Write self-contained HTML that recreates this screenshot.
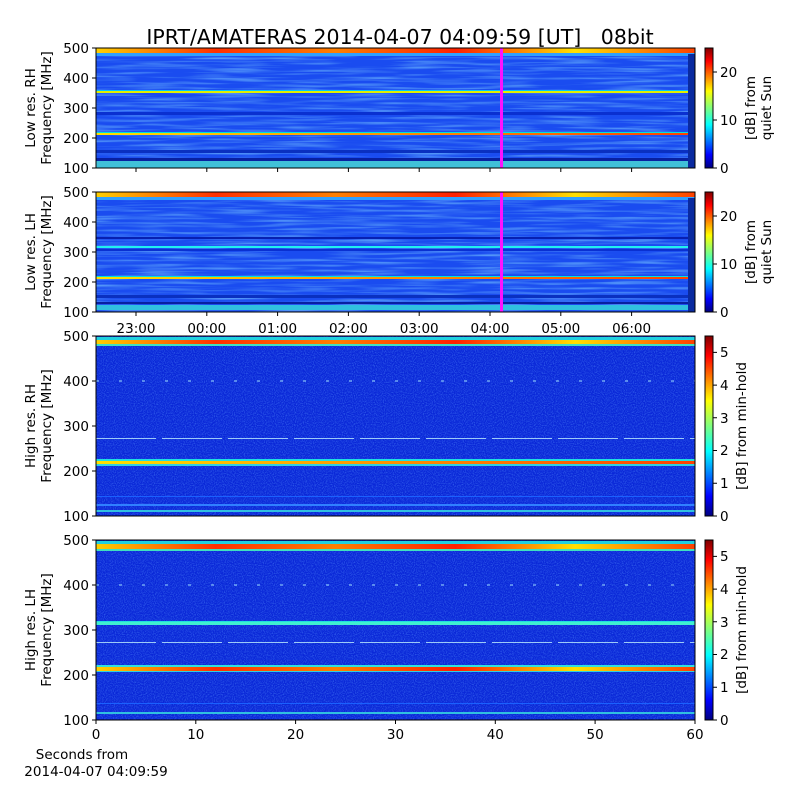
<!DOCTYPE html>
<html><head><meta charset="utf-8"><style>
body{margin:0;background:#fff}
svg text{font-family:"DejaVu Sans","Liberation Sans",sans-serif;fill:#000}
</style></head><body>
<svg width="800" height="800" viewBox="0 0 800 800" xmlns="http://www.w3.org/2000/svg">
<defs>
<linearGradient id="jet" x1="0" y1="1" x2="0" y2="0">
<stop offset="0" stop-color="#00007f"/><stop offset="0.11" stop-color="#0000ff"/>
<stop offset="0.36" stop-color="#00ffff"/><stop offset="0.5" stop-color="#7fff7f"/>
<stop offset="0.64" stop-color="#ffff00"/><stop offset="0.89" stop-color="#ff0000"/>
<stop offset="1" stop-color="#7f0000"/></linearGradient>
<linearGradient id="hot" x1="0" y1="0" x2="1" y2="0">
<stop offset="0" stop-color="#ffd000"/><stop offset="0.2" stop-color="#ff3000"/><stop offset="0.4" stop-color="#ff8000"/><stop offset="0.6" stop-color="#ff2000"/><stop offset="0.8" stop-color="#ffe000"/><stop offset="1" stop-color="#ff4000"/></linearGradient>
<linearGradient id="yl" x1="0" y1="0" x2="1" y2="0">
<stop offset="0" stop-color="#ffe000"/><stop offset="0.5" stop-color="#ff9000"/><stop offset="1" stop-color="#ff4000"/></linearGradient>
<filter id="noise" x="0" y="0" width="100%" height="100%">
<feTurbulence type="fractalNoise" baseFrequency="0.9 0.9" numOctaves="1" seed="3"/>
<feColorMatrix values="0 0 0 0 0.1  0 0 0 0 0.3  0 0 0 0 1  0 0 0 1.2 -0.5"/>
</filter>
<filter id="noise2" x="0" y="0" width="100%" height="100%">
<feTurbulence type="fractalNoise" baseFrequency="0.015 0.4" numOctaves="2" seed="7"/>
<feColorMatrix values="0 0 0 0 0.2  0 0 0 0 0.6  0 0 0 0 1  0 0 0 1.4 -0.6"/>
</filter>
</defs>
<text x="400" y="44" font-size="20.5" text-anchor="middle" xml:space="preserve" style="white-space:pre">IPRT/AMATERAS 2014-04-07 04:09:59 [UT]   08bit</text>

<!-- Panel 1 -->
<rect x="96" y="48" width="599" height="120" fill="#1a4cf0"/>
<rect x="96" y="48" width="599" height="120" filter="url(#noise2)"/>
<rect x="96" y="48" width="599" height="5" fill="url(#hot)"/>
<rect x="96" y="53" width="599" height="3" fill="#30a0ff"/>
<rect x="96" y="90" width="599" height="1" fill="#00c8ff"/>
<rect x="96" y="91" width="599" height="2" fill="#e0f000"/>
<rect x="96" y="112" width="599" height="3" fill="#0a30d0"/>
<rect x="96" y="132" width="599" height="1" fill="#00e0e0"/>
<rect x="96" y="133" width="599" height="2" fill="url(#yl)"/>
<rect x="96" y="150" width="599" height="3" fill="#0a30c0"/>
<rect x="96" y="158" width="599" height="3" fill="#0820a0"/>
<rect x="96" y="161" width="599" height="7" fill="#40c0d8"/>
<rect x="688" y="54" width="7" height="114" fill="#0a2aa0"/>
<rect x="500" y="48" width="3" height="120" fill="#ff10ff"/>
<rect x="96" y="48" width="599" height="120" fill="none" stroke="#000"/>

<!-- Panel 2 -->
<rect x="96" y="192" width="599" height="120" fill="#1a4cf0"/>
<rect x="96" y="192" width="599" height="120" filter="url(#noise2)"/>
<rect x="96" y="192" width="599" height="5" fill="url(#hot)"/>
<rect x="96" y="197" width="599" height="3" fill="#30a0ff"/>
<rect x="96" y="237" width="599" height="2" fill="#0820b0"/>
<rect x="96" y="246" width="599" height="2" fill="#20f0f0"/>
<rect x="96" y="249" width="599" height="2" fill="#0a30d0"/>
<rect x="96" y="276" width="599" height="1" fill="#00e0e0"/>
<rect x="96" y="277" width="599" height="2" fill="url(#yl)"/>
<rect x="96" y="295" width="599" height="3" fill="#0a30c0"/>
<rect x="96" y="302" width="599" height="2" fill="#0820a0"/>
<rect x="96" y="305" width="599" height="5" fill="#30c0e0"/>
<rect x="688" y="198" width="7" height="114" fill="#0a2aa0"/>
<rect x="500" y="192" width="3" height="120" fill="#ff10ff"/>
<rect x="96" y="192" width="599" height="120" fill="none" stroke="#000"/>

<!-- Panel 3 -->
<rect x="96" y="336" width="599" height="180" fill="#0a28d8"/>
<rect x="96" y="336" width="599" height="180" filter="url(#noise)"/>
<rect x="96" y="337" width="599" height="3" fill="#20d0e0"/>
<rect x="96" y="340" width="599" height="4" fill="url(#hot)"/>
<rect x="96" y="344" width="599" height="2" fill="#40e0c0"/>
<line x1="96" y1="381" x2="695" y2="381" stroke="#a0e0ff" stroke-width="1" stroke-dasharray="3 20"/>
<line x1="96" y1="438.5" x2="695" y2="438.5" stroke="#c0f0ff" stroke-width="1" stroke-dasharray="60 6" opacity="0.8"/>
<rect x="96" y="459" width="599" height="2" fill="#20e0e0"/>
<rect x="96" y="461" width="599" height="3" fill="url(#yl)"/>
<rect x="96" y="464" width="599" height="2" fill="#30d0e0"/>
<rect x="96" y="496" width="599" height="1" fill="#1a60ff"/>
<rect x="96" y="504" width="599" height="2" fill="#3080ff"/>
<rect x="96" y="510" width="599" height="2" fill="#30c0e0"/>
<rect x="96" y="336" width="599" height="180" fill="none" stroke="#000"/>

<!-- Panel 4 -->
<rect x="96" y="540" width="599" height="180" fill="#0a28d8"/>
<rect x="96" y="540" width="599" height="180" filter="url(#noise)"/>
<rect x="96" y="541" width="599" height="3" fill="#20d0e0"/>
<rect x="96" y="544" width="599" height="5" fill="url(#hot)"/>
<rect x="96" y="549" width="599" height="2" fill="#40e0c0"/>
<line x1="96" y1="585" x2="695" y2="585" stroke="#a0e0ff" stroke-width="1" stroke-dasharray="3 20"/>
<rect x="96" y="621" width="599" height="1" fill="#20e0e0"/>
<rect x="96" y="622" width="599" height="3" fill="#40f0d0"/>
<line x1="96" y1="642.5" x2="695" y2="642.5" stroke="#c0f0ff" stroke-width="1" stroke-dasharray="60 6" opacity="0.8"/>
<rect x="96" y="665" width="599" height="2" fill="#30e0e0"/>
<rect x="96" y="667" width="599" height="4" fill="url(#hot)"/>
<rect x="96" y="671" width="599" height="1" fill="#30d0e0"/>
<rect x="96" y="703" width="599" height="1" fill="#1a60ff"/>
<rect x="96" y="712" width="599" height="2" fill="#30c0e0"/>
<rect x="96" y="540" width="599" height="180" fill="none" stroke="#000"/>

<!-- Y ticks -->
<g font-size="13.5" text-anchor="end">
<text x="89" y="53">500</text><text x="89" y="83">400</text><text x="89" y="113">300</text><text x="89" y="143">200</text><text x="89" y="173">100</text>
<text x="89" y="197">500</text><text x="89" y="227">400</text><text x="89" y="257">300</text><text x="89" y="287">200</text><text x="89" y="317">100</text>
<text x="89" y="341">500</text><text x="89" y="386">400</text><text x="89" y="431">300</text><text x="89" y="476">200</text><text x="89" y="521">100</text>
<text x="89" y="545">500</text><text x="89" y="590">400</text><text x="89" y="635">300</text><text x="89" y="680">200</text><text x="89" y="725">100</text>
</g>
<g stroke="#000">
<path d="M92 48h4M92 78h4M92 108h4M92 138h4M92 168h4M92 192h4M92 222h4M92 252h4M92 282h4M92 312h4M92 336h4M92 381h4M92 426h4M92 471h4M92 516h4M92 540h4M92 585h4M92 630h4M92 675h4M92 720h4"/>
<path d="M136 168v4M206.8 168v4M277.6 168v4M348.4 168v4M419.2 168v4M490 168v4M560.8 168v4M631.6 168v4"/>
<path d="M136 312v4M206.8 312v4M277.6 312v4M348.4 312v4M419.2 312v4M490 312v4M560.8 312v4M631.6 312v4"/>
<path d="M96 720v4M195.8 720v4M295.6 720v4M395.5 720v4M495.3 720v4M595.1 720v4M695 720v4"/>
</g>
<g font-size="13.5" text-anchor="middle">
<text x="136" y="333">23:00</text><text x="206.8" y="333">00:00</text><text x="277.6" y="333">01:00</text><text x="348.4" y="333">02:00</text><text x="419.2" y="333">03:00</text><text x="490" y="333">04:00</text><text x="560.8" y="333">05:00</text><text x="631.6" y="333">06:00</text>
<text x="96" y="739">0</text><text x="195.8" y="739">10</text><text x="295.6" y="739">20</text><text x="395.5" y="739">30</text><text x="495.3" y="739">40</text><text x="595.1" y="739">50</text><text x="695" y="739">60</text>
<text x="82" y="759">Seconds from</text><text x="96" y="776">2014-04-07 04:09:59</text>
</g>
<g font-size="13.5" text-anchor="middle">
<text transform="translate(35,108) rotate(-90)">Low res. RH</text><text transform="translate(51,108) rotate(-90)">Frequency [MHz]</text>
<text transform="translate(35,252) rotate(-90)">Low res. LH</text><text transform="translate(51,252) rotate(-90)">Frequency [MHz]</text>
<text transform="translate(35,426) rotate(-90)">High res. RH</text><text transform="translate(51,426) rotate(-90)">Frequency [MHz]</text>
<text transform="translate(35,630) rotate(-90)">High res. LH</text><text transform="translate(51,630) rotate(-90)">Frequency [MHz]</text>
</g>

<!-- Colorbars -->
<g stroke="#000">
<rect x="705" y="48" width="8" height="120" fill="url(#jet)"/>
<rect x="705" y="192" width="8" height="120" fill="url(#jet)"/>
<rect x="705" y="336" width="8" height="180" fill="url(#jet)"/>
<rect x="705" y="540" width="8" height="180" fill="url(#jet)"/>
<path d="M713 168h4M713 120h4M713 72h4M713 312h4M713 264h4M713 216h4"/>
<path d="M713 516h4M713 483.3h4M713 450.5h4M713 417.8h4M713 385.1h4M713 352.4h4"/>
<path d="M713 720h4M713 687.3h4M713 654.5h4M713 621.8h4M713 589.1h4M713 556.4h4"/>
</g>
<g font-size="13.5">
<text x="720" y="173">0</text><text x="720" y="125">10</text><text x="720" y="77">20</text>
<text x="720" y="317">0</text><text x="720" y="269">10</text><text x="720" y="221">20</text>
<text x="720" y="521">0</text><text x="720" y="488">1</text><text x="720" y="455">2</text><text x="720" y="423">3</text><text x="720" y="390">4</text><text x="720" y="357">5</text>
<text x="720" y="725">0</text><text x="720" y="692">1</text><text x="720" y="659">2</text><text x="720" y="627">3</text><text x="720" y="594">4</text><text x="720" y="561">5</text>
</g>
<g font-size="13.5" text-anchor="middle">
<text transform="translate(755,108) rotate(-90)">[dB] from</text><text transform="translate(771,108) rotate(-90)">quiet Sun</text>
<text transform="translate(755,252) rotate(-90)">[dB] from</text><text transform="translate(771,252) rotate(-90)">quiet Sun</text>
<text transform="translate(746,426) rotate(-90)">[dB] from min-hold</text>
<text transform="translate(746,630) rotate(-90)">[dB] from min-hold</text>
</g>
</svg>
</body></html>
